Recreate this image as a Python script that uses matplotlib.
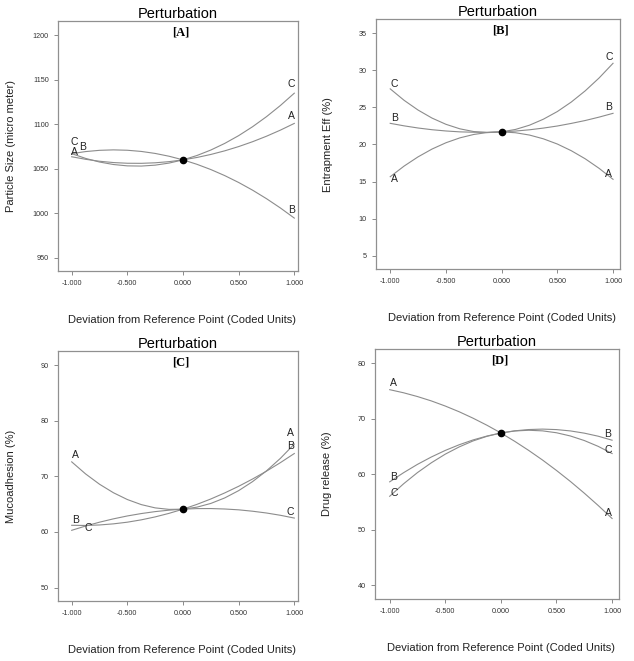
import matplotlib
matplotlib.use("Agg")
import matplotlib.pyplot as plt
from matplotlib.ticker import FormatStrFormatter

plt.rcParams['font.family'] = ['Liberation Sans', 'DejaVu Sans']

# deviation from reference point (coded units)
dev = [-1.0, -0.875, -0.75, -0.625, -0.5, -0.375, -0.25, -0.125, 0.0,
       0.125, 0.25, 0.375, 0.5, 0.625, 0.75, 0.875, 1.0]

# [A] particle size (micro meter)
size_a = [1063.50, 1060.63, 1058.45, 1056.97, 1056.19, 1056.10, 1056.70, 1058.00, 1060.00,
          1062.69, 1066.08, 1070.16, 1074.94, 1080.41, 1086.58, 1093.44, 1101.00]
size_b = [1067.00, 1069.32, 1070.73, 1071.23, 1070.81, 1069.48, 1067.23, 1064.07, 1060.00,
          1055.01, 1049.11, 1042.29, 1034.56, 1025.92, 1016.36, 1005.89, 994.50]
size_c = [1067.00, 1061.64, 1057.56, 1054.77, 1053.25, 1053.02, 1054.06, 1056.39, 1060.00,
          1064.89, 1071.06, 1078.52, 1087.25, 1097.27, 1108.56, 1121.14, 1135.00]

# [B] entrapment efficiency (%)
ee_a = [15.65, 17.09, 18.33, 19.38, 20.23, 20.89, 21.35, 21.62, 21.70,
        21.58, 21.27, 20.76, 20.06, 19.16, 18.07, 16.78, 15.30]
ee_b = [22.85, 22.51, 22.22, 21.99, 21.82, 21.70, 21.65, 21.64, 21.70,
        21.81, 21.98, 22.21, 22.49, 22.84, 23.23, 23.69, 24.20]
ee_c = [27.50, 25.95, 24.64, 23.56, 22.72, 22.11, 21.74, 21.60, 21.70,
        22.03, 22.60, 23.41, 24.44, 25.72, 27.23, 28.97, 30.95]

# [C] mucoadhesion (%)
muco_a = [72.60, 70.43, 68.58, 67.05, 65.83, 64.92, 64.33, 64.06, 64.10,
          64.46, 65.13, 66.12, 67.43, 69.05, 70.98, 73.23, 75.80]
muco_b = [61.20, 61.17, 61.26, 61.46, 61.76, 62.18, 62.71, 63.35, 64.10,
          64.96, 65.93, 67.02, 68.21, 69.52, 70.93, 72.46, 74.10]
muco_c = [60.30, 61.07, 61.76, 62.36, 62.88, 63.31, 63.66, 63.92, 64.10,
          64.20, 64.21, 64.13, 63.98, 63.73, 63.41, 63.00, 62.50]

# [D] drug release (%)
rel_a = [75.20, 74.64, 73.96, 73.17, 72.25, 71.22, 70.06, 68.79, 67.40,
         65.89, 64.26, 62.52, 60.65, 58.67, 56.56, 54.34, 52.00]
rel_b = [58.60, 60.25, 61.75, 63.08, 64.26, 65.28, 66.15, 66.85, 67.40,
         67.79, 68.02, 68.10, 68.01, 67.77, 67.37, 66.82, 66.10]
rel_c = [56.00, 58.25, 60.27, 62.04, 63.59, 64.89, 65.97, 66.80, 67.40,
         67.76, 67.89, 67.78, 67.44, 66.86, 66.04, 64.99, 63.70]

x_ticks = [-1.0, -0.5, 0.0, 0.5, 1.0]

panels = [
    {'tag': '[A]', 'ylabel': 'Particle Size (micro meter)',
     'curves': {'A': size_a, 'B': size_b, 'C': size_c},
     'yticks': [950, 1000, 1050, 1100, 1150, 1200], 'ylim': (935, 1216),
     'xlim': (-1.123, 1.033), 'rect': [0.0915, 0.590, 0.3785, 0.378],
     'left_off': {'A': (2, 0), 'B': (8, 1), 'C': (2, 5)},
     'right_off': {'A': (-2, 2), 'B': (-2, 2), 'C': (-2, 3)}},
    {'tag': '[B]', 'ylabel': 'Entrapment Eff (%)',
     'curves': {'A': ee_a, 'B': ee_b, 'C': ee_c},
     'yticks': [5, 10, 15, 20, 25, 30, 35], 'ylim': (3.2, 36.9),
     'xlim': (-1.128, 1.063), 'rect': [0.593, 0.593, 0.385, 0.378],
     'left_off': {'A': (3, -5), 'B': (3, 0), 'C': (3, 0)},
     'right_off': {'A': (-3, 0), 'B': (-3, 1), 'C': (-3, 1)}},
    {'tag': '[C]', 'ylabel': 'Mucoadhesion (%)',
     'curves': {'A': muco_a, 'B': muco_b, 'C': muco_c},
     'yticks': [50, 60, 70, 80, 90], 'ylim': (47.6, 92.5),
     'xlim': (-1.123, 1.033), 'rect': [0.0915, 0.0908, 0.3785, 0.378],
     'left_off': {'A': (3, 1), 'B': (3, 0), 'C': (12, -2)},
     'right_off': {'A': (-3, 4), 'B': (-3, 2), 'C': (-3, 1)}},
    {'tag': '[D]', 'ylabel': 'Drug release (%)',
     'curves': {'A': rel_a, 'B': rel_b, 'C': rel_c},
     'yticks': [40, 50, 60, 70, 80], 'ylim': (37.5, 82.5),
     'xlim': (-1.132, 1.063), 'rect': [0.5915, 0.0938, 0.385, 0.378],
     'left_off': {'A': (3, 1), 'B': (3, 0), 'C': (3, -1)},
     'right_off': {'A': (-3, 0), 'B': (-3, 1), 'C': (-3, -1)}},
]

fig = plt.figure(figsize=(6.34, 6.61), dpi=100)

for p in panels:
    ax = fig.add_axes(p['rect'])

    for name, vals in p['curves'].items():
        ax.plot(dev, vals, color='#8c8c8c', lw=0.8)
        # letter labels at both ends of each curve
        ax.annotate(name, (dev[0], vals[0]), xytext=p['left_off'][name],
                    textcoords='offset points', ha='center', va='bottom',
                    fontsize=7.5, color='#222222')
        ax.annotate(name, (dev[-1], vals[-1]), xytext=p['right_off'][name],
                    textcoords='offset points', ha='center', va='bottom',
                    fontsize=7.5, color='#222222')

    # reference point
    center = list(p['curves'].values())[0][8]
    ax.plot([dev[8]], [center], 'o', color='black', ms=4.5, zorder=5)

    ax.set_xlim(*p['xlim'])
    ax.set_ylim(*p['ylim'])
    ax.set_xticks(x_ticks)
    ax.set_yticks(p['yticks'])
    ax.xaxis.set_major_formatter(FormatStrFormatter('%.3f'))
    ax.tick_params(labelsize=5.2, colors='#333333', length=3, width=0.6)
    ax.tick_params(axis='both', color='#777777')

    for s in ax.spines.values():
        s.set_color('#909090')
        s.set_linewidth(0.9)

    ax.set_title('Perturbation', fontsize=10.5, pad=2)
    ax.text(0.51, 0.955, p['tag'], transform=ax.transAxes, ha='center',
            va='center', fontsize=9, fontweight='bold',
            family=['Liberation Serif', 'DejaVu Serif'])

    ax.set_ylabel(p['ylabel'], fontsize=8, color='#222222')
    ax.yaxis.set_label_coords(-0.175, 0.5)
    ax.set_xlabel('Deviation from Reference Point (Coded Units)', fontsize=8,
                  color='#222222')
    ax.xaxis.set_label_coords(0.515, -0.175)

fig.savefig('out.png', dpi=100)
